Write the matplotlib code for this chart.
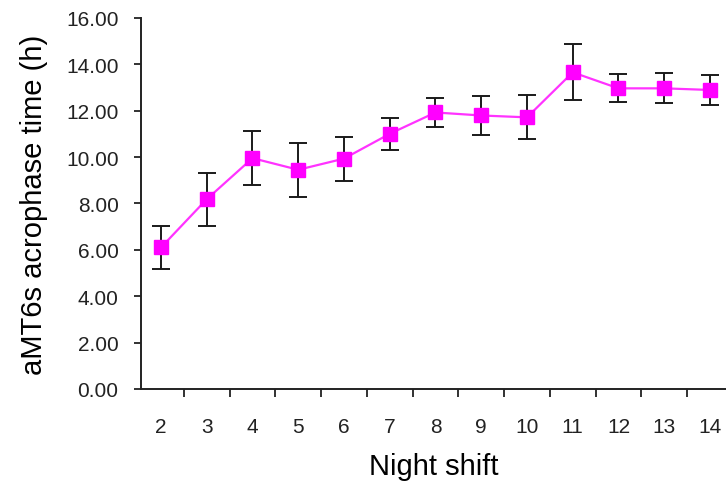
import matplotlib
matplotlib.use('Agg')
import matplotlib.pyplot as plt
import numpy as np

plt.rcParams['font.family'] = ['Liberation Sans', 'DejaVu Sans']

# data
nights = [2, 3, 4, 5, 6, 7, 8, 9, 10, 11, 12, 13, 14]
acrophase = [6.10, 8.18, 9.95, 9.45, 9.93, 11.00, 11.92, 11.79, 11.71, 13.65, 12.96, 12.96, 12.89]
sem = [0.92, 1.15, 1.17, 1.16, 0.95, 0.68, 0.61, 0.84, 0.95, 1.21, 0.60, 0.64, 0.63]
yticks = [0, 2, 4, 6, 8, 10, 12, 14, 16]

fig = plt.figure(figsize=(7.26, 4.89), dpi=100)
ax = fig.add_axes([0.194, 0.2025, 0.806, 0.759])

ax.errorbar(nights, acrophase, yerr=sem, fmt='none', ecolor='#1a1a1a',
            elinewidth=1.4, capsize=6.5, capthick=1.4, zorder=2)
ax.plot(nights, acrophase, color='#ff33ff', linewidth=1.6, zorder=3)
ax.plot(nights, acrophase, linestyle='none', marker='s', markersize=10,
        color='#ff00ff', zorder=4)

ax.set_xlim(nights[0] - 0.44, nights[-1] + 0.35)
ax.set_ylim(0, 16)
ax.set_yticks(yticks)
ax.set_yticklabels([f'{v:.2f}' for v in yticks])
ax.set_xticks(nights)
ax.set_xticklabels([str(n) for n in nights])
ax.set_xticks(np.array(nights[:-1]) + 0.5, minor=True)

ax.tick_params(axis='x', which='major', length=0, pad=20, labelsize=15, colors='#222222')
ax.tick_params(axis='x', which='minor', length=6, width=1.3, color='#222222')
ax.tick_params(axis='y', length=5, width=1.3, pad=11, labelsize=15,
               colors='#222222')

for s in ('top', 'right'):
    ax.spines[s].set_visible(False)
for s in ('left', 'bottom'):
    ax.spines[s].set_linewidth(1.4)
    ax.spines[s].set_color('#222222')

ax.set_xlabel('Night shift', fontsize=21, labelpad=12)
ax.set_ylabel('aMT6s acrophase time (h)', fontsize=21, labelpad=13)

fig.savefig('out.png')
